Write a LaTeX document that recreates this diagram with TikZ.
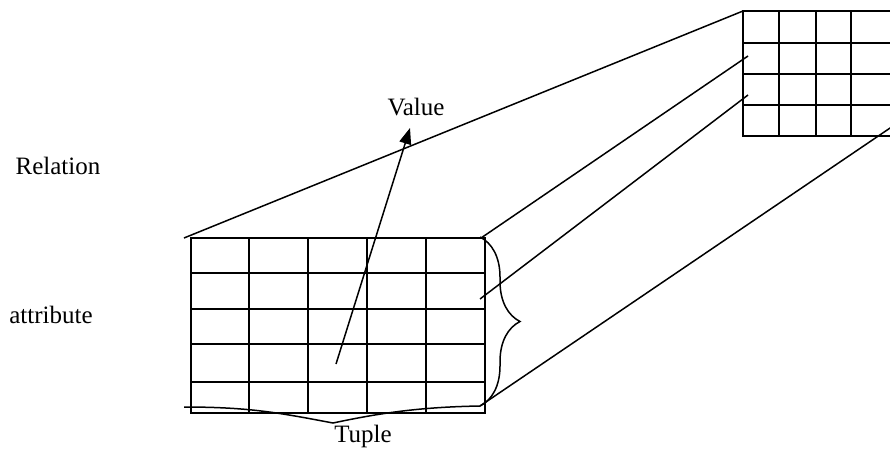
\documentclass[tikz,border=0pt]{standalone}
\usepackage{fontspec}
\setmainfont{Liberation Serif}
\usetikzlibrary{arrows.meta,decorations.pathreplacing,calc}

\begin{document}
\begin{tikzpicture}[x=1pt,y=-1pt,
    gridline/.style={line width=2.4pt,line cap=rect},
    link/.style={line width=1.5pt},
    bracket/.style={line width=1.5pt,decorate},
    captext/.style={font=\fontsize{25}{30}\selectfont,inner sep=0pt,anchor=base}]
  \useasboundingbox (0,0) rectangle (890,448);
  % Relation (small grid)
  \foreach \x in {743,779,816,851} \draw[gridline] (\x,11) -- (\x,136);
  \foreach \y in {11,43,74,105,136} \draw[gridline] (743,\y) -- (893,\y);
  \coordinate (relTL) at (743,11);
  \coordinate (relA) at (748,56);
  \coordinate (relB) at (748,95);
  \coordinate (relBR) at (896,124);
  % attribute (big grid)
  \foreach \x in {191,249,308,367,426,485} \draw[gridline] (\x,238) -- (\x,413);
  \foreach \y in {238,273,309,344,382,413} \draw[gridline] (191,\y) -- (485,\y);
  \coordinate (attTL) at (184,238);
  \coordinate (attTR) at (481,238);
  \coordinate (attMid) at (480,299);
  \coordinate (attBR) at (480,406);
  \coordinate (attBL) at (184,407);
  \coordinate (tupTip) at (333,423);
  % zoom lines
  \draw[link] (attTL) -- (relTL);
  \draw[link] (attTR) -- (relA);
  \draw[link] (attMid) -- (relB);
  \draw[link] (attBR) -- (relBR);
  % braces
  \draw[bracket,decoration={brace,amplitude=40pt}] (480,237) -- (attBR);
  \draw[link] (attBL) .. controls (250,407) and (280,413) .. (tupTip)
    .. controls (380,413) and (420,407) .. (attBR);
  % Value arrow
  \coordinate (cell) at (336,364);
  \coordinate (tip) at (410,128);
  \draw[link,-{Triangle[length=16pt,width=12pt]}] (cell) -- (tip);
  % labels
  \node[captext] (relation) at (58,174) {Relation};
  \node[captext] (attribute) at (51,323) {attribute};
  \node[captext] (value) at (416,115) {Value};
  \node[captext] (tuple) at (363,442) {Tuple};
\end{tikzpicture}
\end{document}
